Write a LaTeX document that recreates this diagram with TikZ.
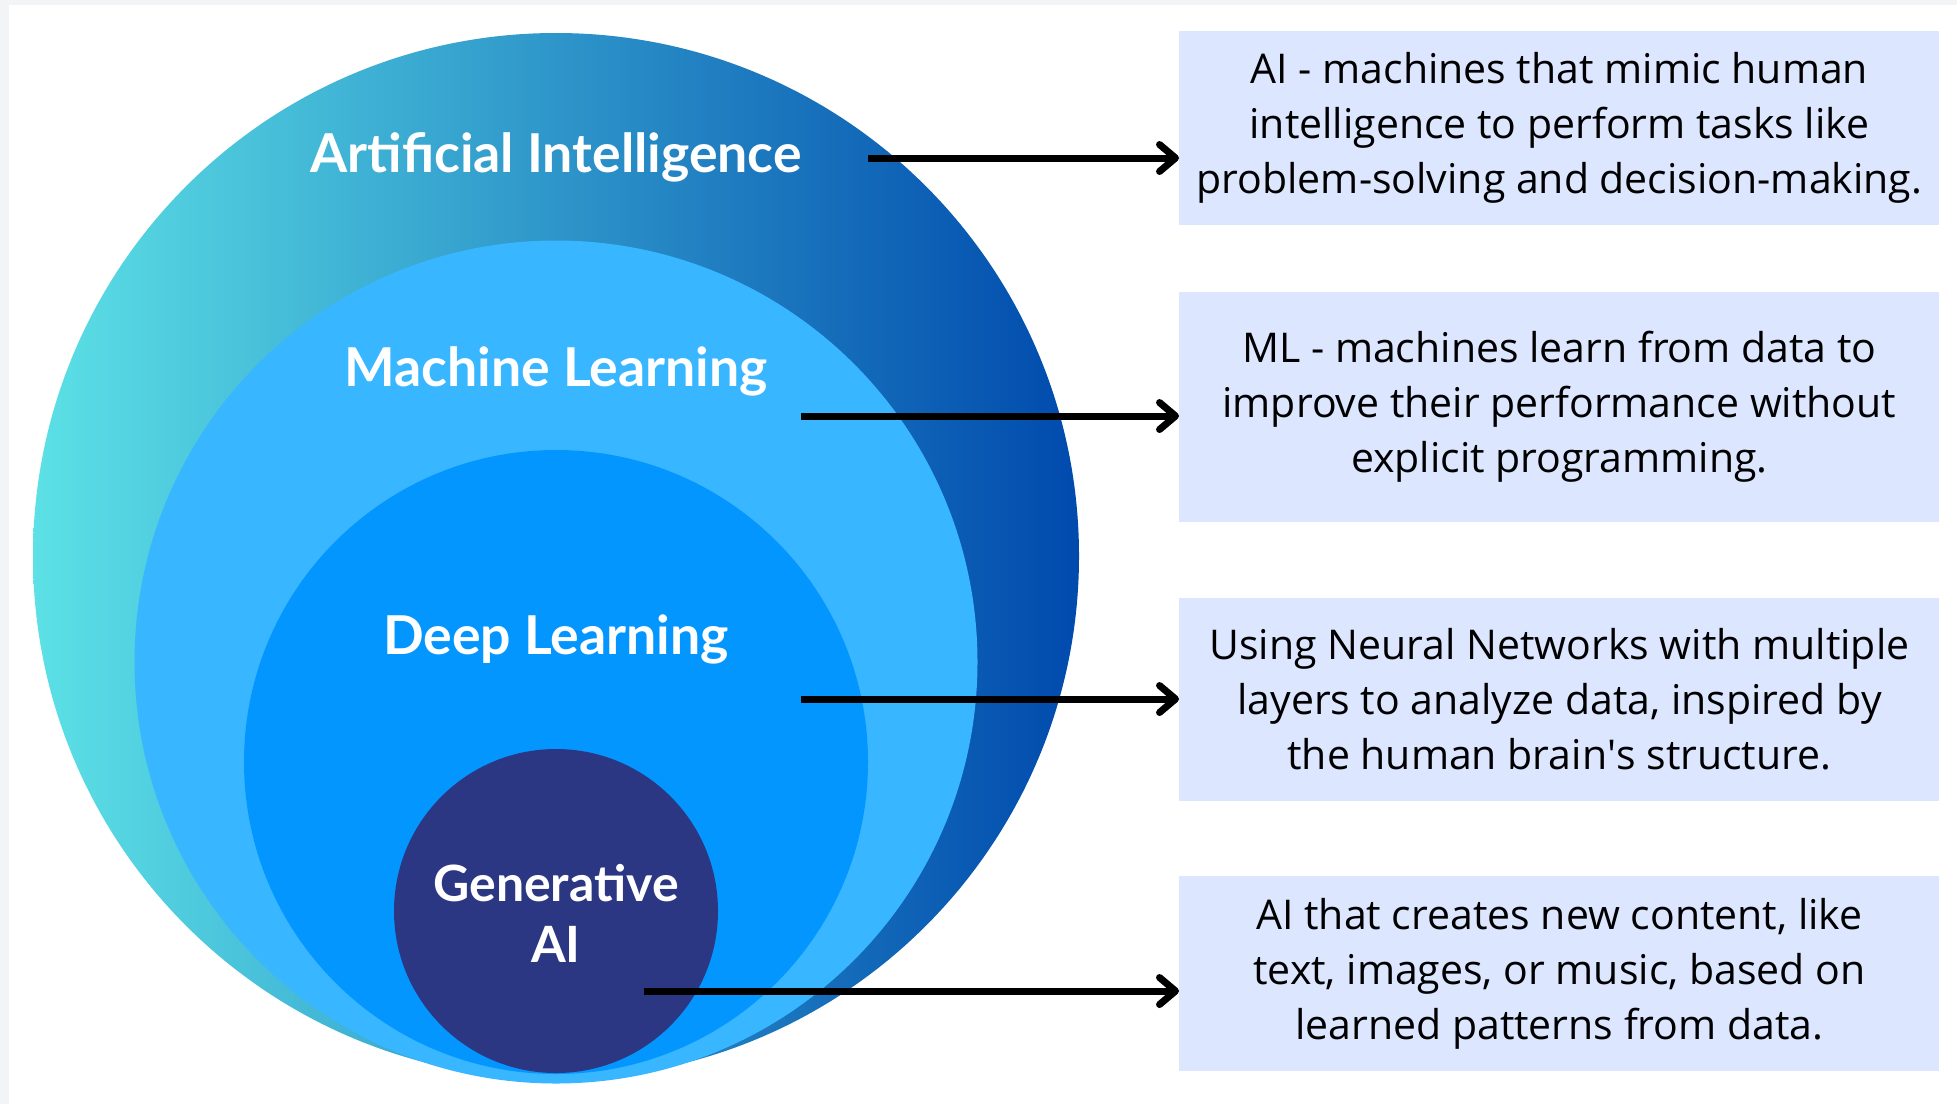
\documentclass[tikz,border=0pt]{standalone}
\usepackage{fontspec}
\setmainfont{Open Sans}
\newfontfamily\titlefont{Lato}
\usetikzlibrary{arrows.meta, positioning}
\definecolor{aicyan}{HTML}{5CE1E6}
\definecolor{aiblue}{HTML}{004AAD}
\definecolor{mlblue}{HTML}{38B6FF}
\definecolor{dlblue}{HTML}{0496FF}
\definecolor{gennavy}{HTML}{2C3784}
\definecolor{boxfill}{HTML}{DCE6FF}
\definecolor{framegray}{HTML}{F3F4F6}

\begin{document}
\begin{tikzpicture}[x=0.5pt, y=-0.5pt,
  layer/.style={circle, inner sep=0pt, minimum size=#1},
  ringtitle/.style={text=white, align=center, font=\titlefont\bfseries\fontsize{26.8}{30.5}\selectfont},
  infobox/.style={fill=boxfill, anchor=west, inner sep=0pt, minimum width=380pt, minimum height=#1, align=center, font=\fontsize{20.5}{27.5}\selectfont},
  pointer/.style={line width=3.5pt, -{Straight Barb[length=8pt, width=13.5pt, round]}}]

% Frame
\useasboundingbox (0,0) rectangle (1957,1104);
\fill[framegray] (0,0) rectangle (1957,1104);
\fill[white] (9,5) rectangle (1957,1104);

% Nested circles
\node[layer=523pt, left color=aicyan, right color=aiblue] (ai) at (556,556) {};
\node[layer=421.5pt, fill=mlblue] (ml) at (556,662) {};
\node[layer=312pt, fill=dlblue] (dl) at (556,762) {};
\node[layer=162pt, fill=gennavy] (gen) at (556,911) {};

% Titles
\node[ringtitle, anchor=base] (aititle) at (556,172) {Artificial Intelligence};
\node[ringtitle, anchor=base] (mltitle) at (556,386) {Machine Learning};
\node[ringtitle, anchor=base] (dltitle) at (556,654) {Deep Learning};
\node[ringtitle, font=\titlefont\bfseries\fontsize{25}{30.5}\selectfont] (gentitle) at (556,913) {Generative\\AI};

% Descriptions
\node[infobox=97pt] (aibox) at (1179,128) {AI - machines that mimic human\\intelligence to perform tasks like\\problem-solving and decision-making.};
\node[infobox=115pt] (mlbox) at (1179,407) {ML - machines learn from data to\\improve their performance without\\explicit programming.};
\node[infobox=101.5pt] (dlbox) at (1179,699.5) {Using Neural Networks with multiple\\layers to analyze data, inspired by\\the human brain\textquotesingle s structure.};
\node[infobox=97.5pt] (genbox) at (1179,973.5) {AI that creates new content, like\\text, images, or music, based on\\learned patterns from data.};

% Arrows
\coordinate (aistart) at (868,158);
\coordinate (mlstart) at (801,416);
\coordinate (dlstart) at (801,699);
\coordinate (genstart) at (644,991);
\draw[pointer] (aistart) -- (aistart -| aibox.west);
\draw[pointer] (mlstart) -- (mlstart -| mlbox.west);
\draw[pointer] (dlstart) -- (dlstart -| dlbox.west);
\draw[pointer] (genstart) -- (genstart -| genbox.west);
\end{tikzpicture}
\end{document}
